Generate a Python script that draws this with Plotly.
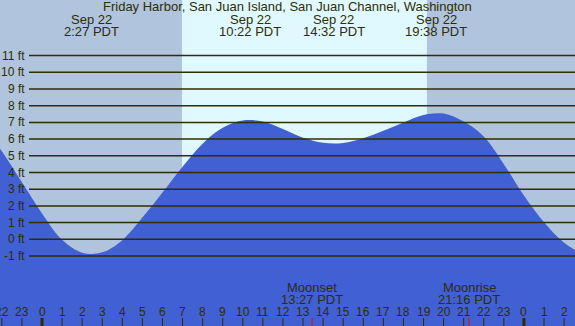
import plotly.graph_objects as go

# ---- data ----
tide_hours = list(range(-3, 28))
tide_ft = [6.9, 5.27, 3.41, 1.55, -0.03, -0.8, -0.78, -0.05, 1.3, 2.8, 4.35, 5.73, 6.68, 7.12, 7.05,
           6.6, 6.08, 5.78, 5.77, 6.05, 6.5, 7.0, 7.45, 7.53, 7.05, 6.15, 4.5, 2.62, 1.02, -0.2, -0.95]

tide_dates = ["Sep 22", "Sep 22", "Sep 22", "Sep 22", "Sep 23"]
tide_times = ["2:27", "10:22", "14:32", "19:38", "3:23"]
tide_dayoff = [0, 0, 0, 0, 1]

moon_names = ["Moonrise", "Moonset", "Moonrise"]
moon_times = ["20:40", "13:27", "21:16"]
moon_dayoff = [-1, 0, 0]

sunrise_h = 6.97
sunset_h = 19.17

grid_ft = list(range(-1, 12))
hour_ticks = list(range(-2, 27))

title = "Friday Harbor, San Juan Island, San Juan Channel, Washington"

# ---- styling ----
W, H = 575, 326
X_RANGE = [-2.092, 26.544]
Y_RANGE = [-5.19, 14.33]
NIGHT = "#B0C4DE"
DAY = "#E0F8FF"
WATER = "#4060D4"
INK = "#2E2E00"
FONT = "Liberation Sans, Arial, sans-serif"
BIG = 13
SMALL = 12


def to_h(t, off):
    hh, mm = t.split(":")
    return int(hh) + int(mm) / 60 + 24 * off


fig = go.Figure()
fig.add_trace(go.Scatter(x=tide_hours, y=[Y_RANGE[0]] * len(tide_hours), mode="lines",
                         line=dict(width=0), hoverinfo="skip", showlegend=False))
fig.add_trace(go.Scatter(x=tide_hours, y=tide_ft, mode="lines", line=dict(width=0, shape="spline", color=WATER),
                         fill="tonexty", fillcolor=WATER, hoverinfo="skip", showlegend=False))

shapes = []
shapes.append(dict(type="rect", xref="x", yref="paper", x0=sunrise_h, x1=sunset_h, y0=0, y1=1,
                   fillcolor=DAY, line=dict(width=0), layer="below"))
annotations = []
for v in grid_ft:
    shapes.append(dict(type="line", xref="paper", yref="y", x0=29 / W, x1=1, y0=v, y1=v,
                       line=dict(color=INK, width=1.5), layer="above"))
    annotations.append(dict(xref="paper", yref="y", x=27 / W, y=v, text=f"{v} ft", showarrow=False,
                            xanchor="right", yanchor="middle", font=dict(family=FONT, size=SMALL, color=INK)))

for h in hour_ticks:
    mid = (h % 24 == 0)
    shapes.append(dict(type="line", xref="x", yref="paper", x0=h, x1=h, y0=0, y1=8 / H,
                       line=dict(color=INK, width=3 if mid else 1), layer="above"))
    annotations.append(dict(xref="x", yref="paper", x=h, y=1 - 312 / H, text=str(h % 24), showarrow=False,
                            xanchor="center", yanchor="middle", font=dict(family=FONT, size=SMALL, color=INK)))

for d, t, off in zip(tide_dates, tide_times, tide_dayoff):
    hx = to_h(t, off)
    annotations.append(dict(xref="x", yref="paper", x=hx, y=1 - 20 / H, text=d, showarrow=False,
                            xanchor="center", yanchor="middle", font=dict(family=FONT, size=BIG, color=INK)))
    annotations.append(dict(xref="x", yref="paper", x=hx, y=1 - 32 / H, text=f"{t} PDT", showarrow=False,
                            xanchor="center", yanchor="middle", font=dict(family=FONT, size=BIG, color=INK)))

for n, t, off in zip(moon_names, moon_times, moon_dayoff):
    hx = to_h(t, off)
    annotations.append(dict(xref="x", yref="paper", x=hx, y=1 - 287 / H, text=n, showarrow=False,
                            xanchor="center", yanchor="middle", font=dict(family=FONT, size=BIG, color=INK)))
    annotations.append(dict(xref="x", yref="paper", x=hx, y=1 - 299 / H, text=f"{t} PDT", showarrow=False,
                            xanchor="center", yanchor="middle", font=dict(family=FONT, size=BIG, color=INK)))
    shapes.append(dict(type="line", xref="x", yref="paper", x0=hx, x1=hx, y0=0, y1=8 / H,
                       line=dict(color="red", width=1), layer="above"))

annotations.append(dict(xref="paper", yref="paper", x=0.5, y=1 - 7 / H, text=title, showarrow=False,
                        xanchor="center", yanchor="middle", font=dict(family=FONT, size=BIG, color=INK)))

fig.update_layout(
    width=W, height=H, margin=dict(l=0, r=0, t=0, b=0),
    paper_bgcolor=NIGHT, plot_bgcolor=NIGHT,
    xaxis=dict(range=X_RANGE, visible=False, fixedrange=True),
    yaxis=dict(range=Y_RANGE, visible=False, fixedrange=True),
    shapes=shapes, annotations=annotations, showlegend=False,
)
fig.write_html("out.html", config={"displayModeBar": False},
               post_script="document.body.style.margin='0px';document.body.style.overflow='hidden';")
